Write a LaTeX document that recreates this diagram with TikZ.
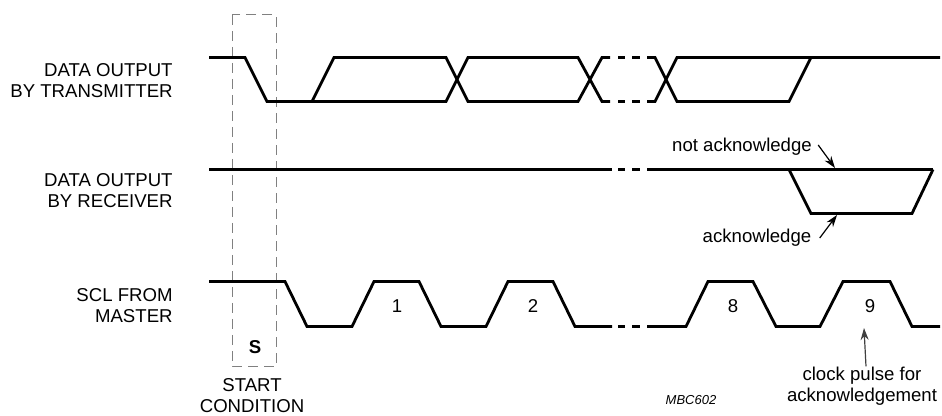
\documentclass[tikz,border=0pt]{standalone}
\usepackage{fontspec}
\setmainfont{Liberation Sans}
\usetikzlibrary{arrows.meta}

\begin{document}
\begin{tikzpicture}[x=0.5pt,y=-0.5pt,
		wave/.style={line width=1.4pt},
		lbl/.style={font=\fontsize{9.3}{10.5}\selectfont,inner sep=0pt},
		note/.style={line width=0.6pt,->},
		>={Stealth[length=6pt,width=4pt]}]
		\useasboundingbox (0,0) rectangle (942,416);
		% start condition box
		\draw[gray,line width=0.5pt,dash pattern=on 5pt off 3pt] (232,15) rectangle (276,367);
		\node[lbl,font=\fontsize{9.3}{10.5}\selectfont\bfseries] (s) at (255,347) {S};
		\node[lbl,align=center] (start) at (252,396) {START\\CONDITION};
		% row labels
		\node[lbl,anchor=east,align=right] (tx) at (173,81) {DATA OUTPUT\\BY TRANSMITTER};
		\node[lbl,anchor=east,align=right] (rx) at (173,191) {DATA OUTPUT\\BY RECEIVER};
		\node[lbl,anchor=east,align=right] (scl) at (173,305.5) {SCL FROM\\MASTER};
		% data output by transmitter
		\draw[wave] (209,57.5) -- (245,57.5) -- (267,101.5) -- (446,101.5) -- (468,57.5) -- (578,57.5) -- (602,101.5) -- (610,101.5);
		\draw[wave] (312,101.5) -- (334,57.5) -- (446,57.5) -- (468,101.5) -- (578,101.5) -- (602,57.5) -- (610,57.5);
		\draw[wave] (647,57.5) -- (655,57.5) -- (677,101.5) -- (789,101.5) -- (811,57.5) -- (940,57.5);
		\draw[wave] (647,101.5) -- (655,101.5) -- (677,57.5) -- (811,57.5);
		% data output by receiver
		\draw[wave] (209,169.5) -- (612,169.5) (647,169.5) -- (933,169.5);
		\draw[wave] (789,169.5) -- (811,213.5) -- (912,213.5) -- (933,169.5);
		% scl from master
		\draw[wave] (209,281.5) -- (285,281.5) -- (307,326.5) -- (352,326.5) -- (374,281.5) -- (419,281.5) -- (441,326.5) -- (486,326.5) -- (508,281.5) -- (553,281.5) -- (575,326.5) -- (612,326.5);
		\draw[wave] (647,326.5) -- (686,326.5) -- (708,281.5) -- (753,281.5) -- (776,326.5) -- (820,326.5) -- (843,281.5) -- (890,281.5) -- (912,326.5) -- (940,326.5);
		% breaks
		\foreach \y in {57.5,101.5,169.5,326.5}
			\draw[wave] (618,\y) -- (625,\y) (632,\y) -- (640,\y);
		% pulse numbers
		\foreach \x/\n in {397/1,533/2,733/8,870/9}
			\node[lbl] (p\n) at (\x,306) {\n};
		% acknowledge notes
		\node[lbl] (nack) at (742,147) {not acknowledge};
		\node[lbl] (ack) at (757,238) {acknowledge};
		\coordinate (nackpt) at (835,168);
		\coordinate (ackpt) at (837,215);
		\draw[note] ([xshift=3pt,yshift=1pt]nack.east) -- (nackpt);
		\draw[note] ([xshift=4pt]ack.east) -- (ackpt);
		\node[lbl,align=center] (clk) at (862,386) {clock pulse for\\acknowledgement};
		\coordinate (clkpt) at (864,328);
		\draw[note,black!75] ([xshift=2pt]clk.north) -- (clkpt);
		\node[lbl,font=\fontsize{6.5}{8}\selectfont\itshape] (id) at (691,400) {MBC602};
	\end{tikzpicture}
\end{document}
